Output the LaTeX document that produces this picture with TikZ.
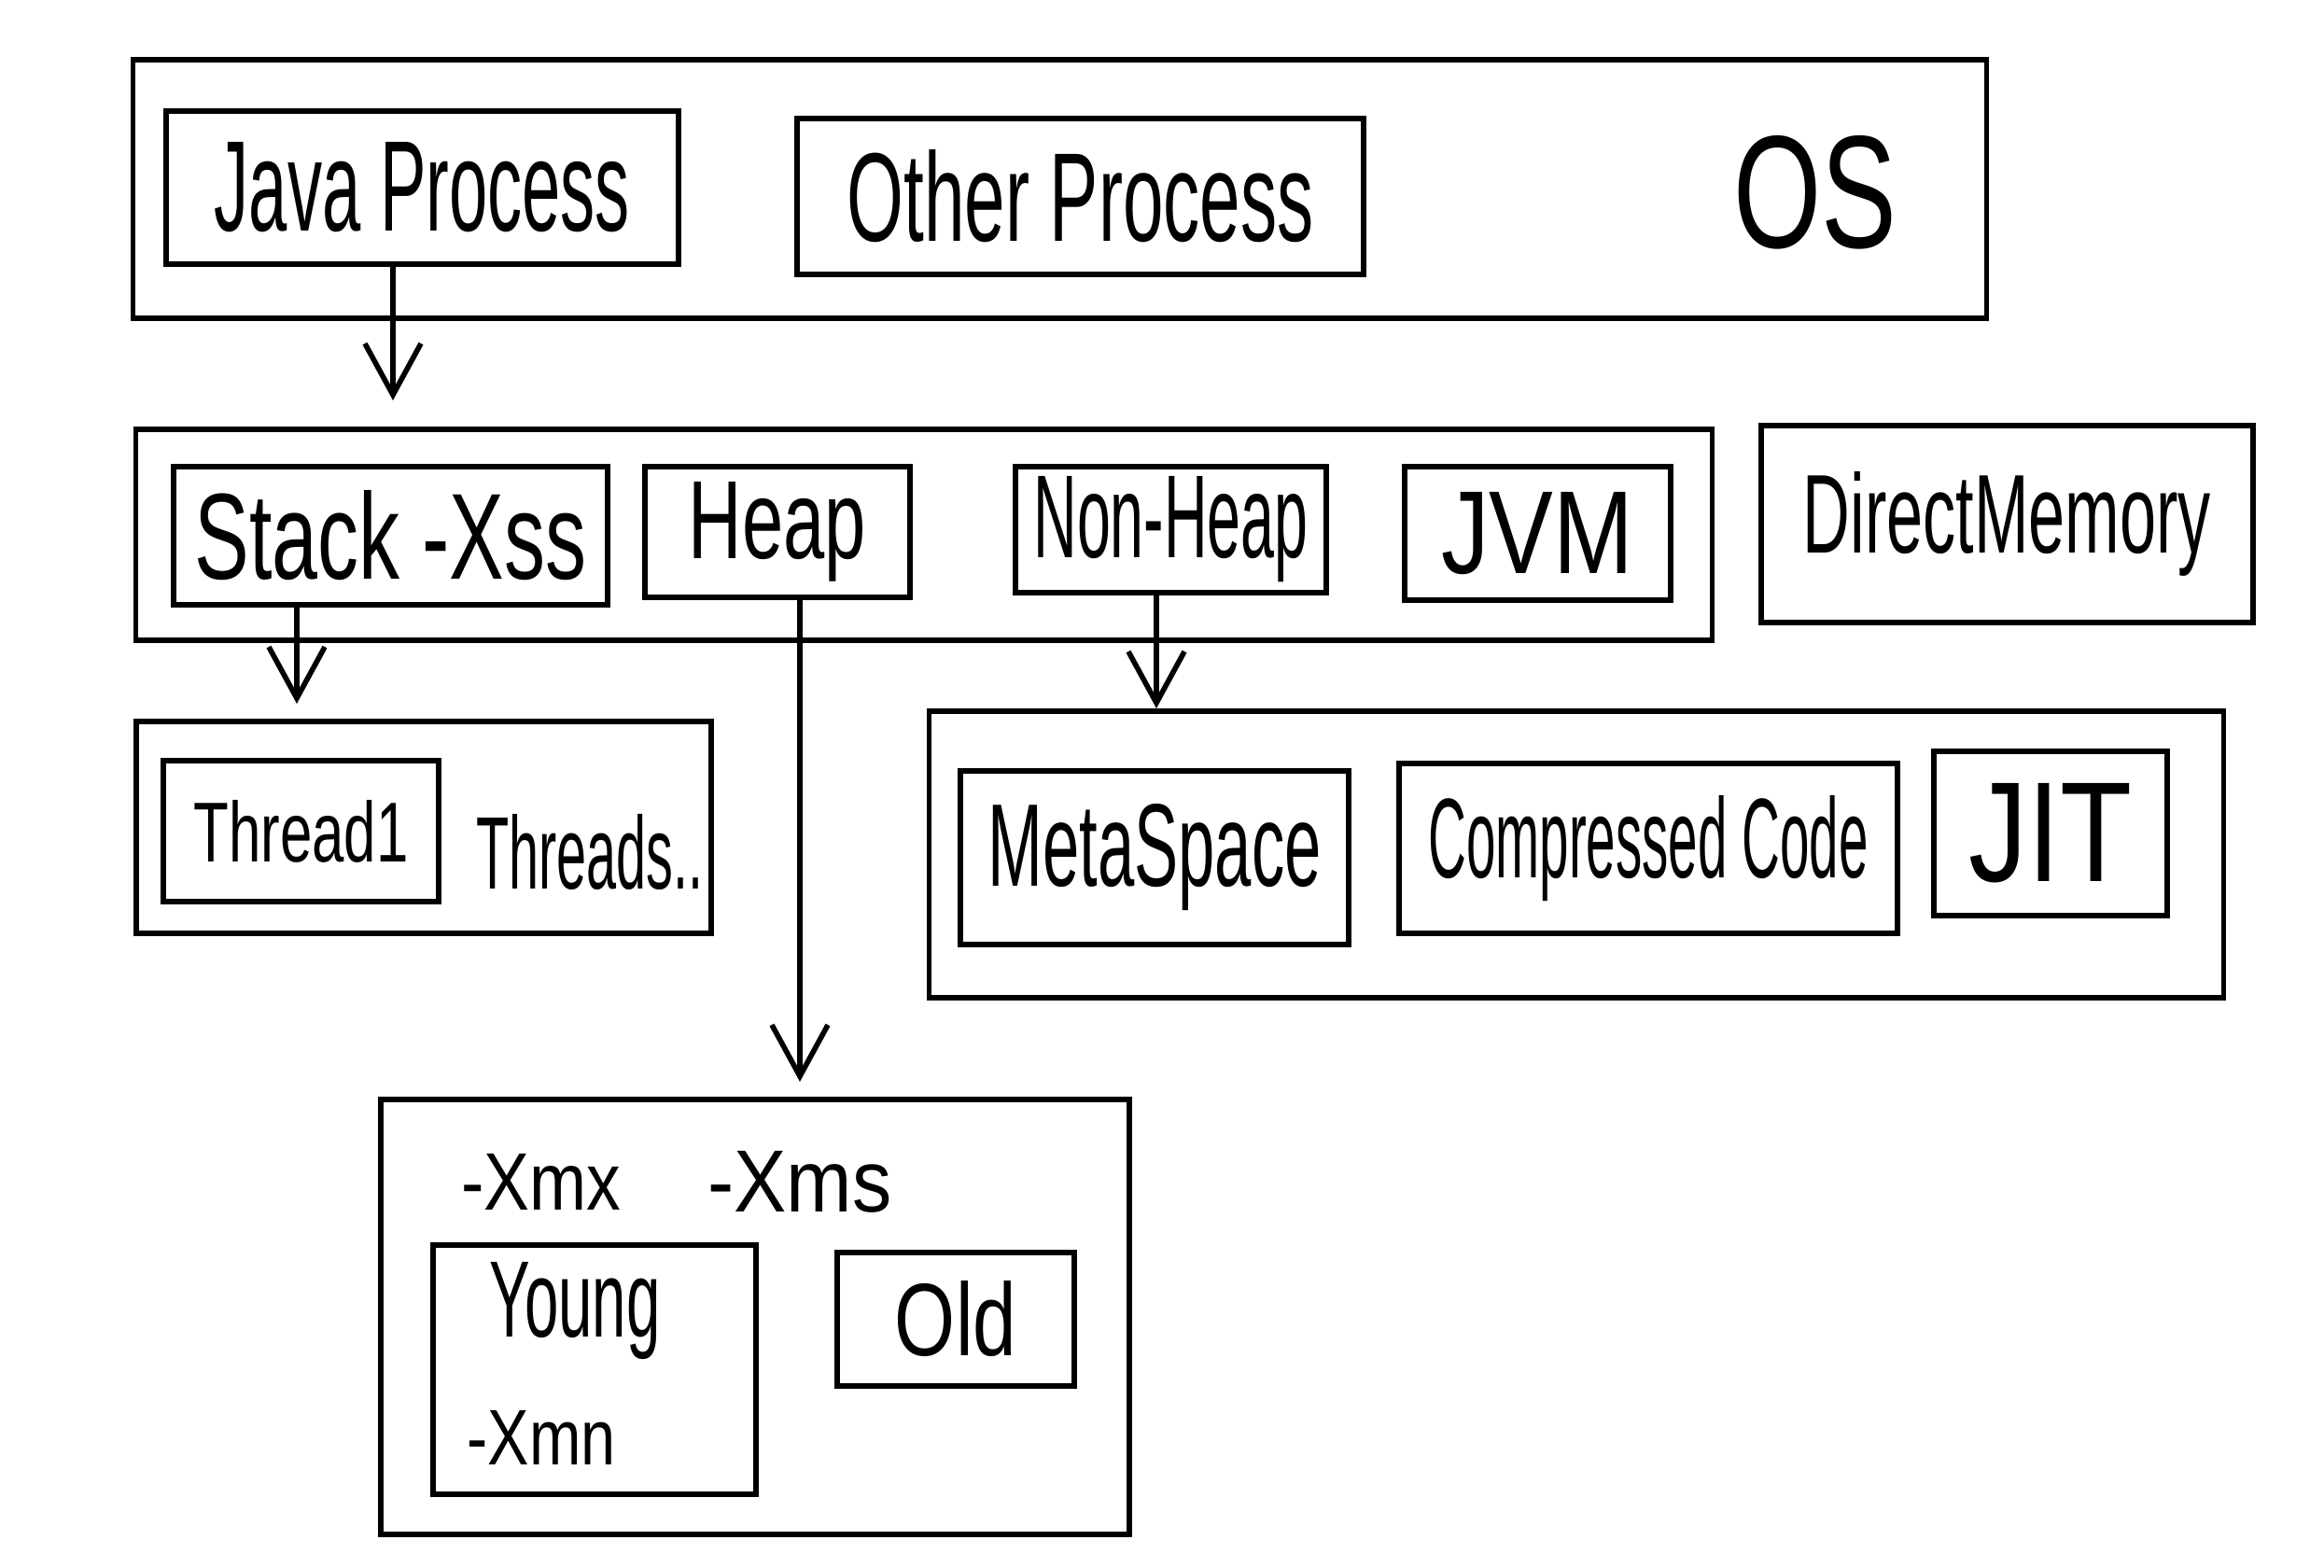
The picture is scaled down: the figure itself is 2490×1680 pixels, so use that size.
\documentclass[tikz,border=0pt]{standalone}
\usepackage{graphicx}
\usepackage{fontspec}
\setmainfont{Liberation Sans}
\usetikzlibrary{arrows.meta}
\newcommand{\hw}[3]{\resizebox{#1cm}{#2cm}{#3}}
\tikzset{
  hbox/.style={draw, line width=1.6pt, inner sep=0pt},
  lbl/.style={inner sep=0pt},
  arr/.style={line width=1.6pt, -{Straight Barb[length=0.55cm,width=0.6cm,line width=1.6pt]}}
}
\begin{document}
\begin{tikzpicture}[x=0.01cm,y=-0.01cm]
\useasboundingbox[fill=white] (0,0) rectangle (2490,1680);
% OS level
\node[hbox, minimum width=19.85cm, minimum height=2.77cm] (os) at (1135.5,202.5) {};
\node[hbox, minimum width=5.49cm, minimum height=1.64cm] (java) at (452.5,201) {\hw{4.45}{0.95}{Java Process}};
\node[hbox, minimum width=6.07cm, minimum height=1.67cm] (other) at (1157.5,210.5) {\hw{5.0}{0.98}{Other Process}};
\node[lbl] (ostxt) at (1945,206) {\hw{1.75}{1.2}{OS}};
% JVM level
\node[hbox, minimum width=16.88cm, minimum height=2.26cm] (jvm) at (990,573) {};
\node[hbox, minimum width=4.65cm, minimum height=1.48cm] (stack) at (418.5,574) {\hw{4.2}{0.95}{Stack -Xss}};
\node[hbox, minimum width=2.84cm, minimum height=1.40cm] (heap) at (833,570) {\hw{1.9}{0.82}{Heap}};
\node[hbox, minimum width=3.33cm, minimum height=1.35cm] (nonheap) at (1254.5,567.5) {\hw{2.94}{0.87}{Non-Heap}};
\node[hbox, minimum width=2.85cm, minimum height=1.43cm] (jvmin) at (1647.5,571.5) {\hw{2.06}{0.87}{JVM}};
\node[hbox, minimum width=5.27cm, minimum height=2.11cm] (direct) at (2150.5,561.5) {\hw{4.37}{0.87}{DirectMemory}};
% Threads
\node[hbox, minimum width=6.16cm, minimum height=2.27cm] (threads) at (454,886.5) {};
\node[hbox, minimum width=2.95cm, minimum height=1.51cm] (thread1) at (322.5,890.5) {\hw{2.3}{0.66}{Thread1}};
\node[lbl] (threadsmore) at (632,913) {\hw{2.43}{0.8}{Threads..}};
% Non-heap detail
\node[hbox, minimum width=13.86cm, minimum height=3.07cm] (nhbox) at (1689,915.5) {};
\node[hbox, minimum width=4.16cm, minimum height=1.86cm] (meta) at (1237,919) {\hw{3.57}{0.88}{MetaSpace}};
\node[hbox, minimum width=5.34cm, minimum height=1.82cm] (comp) at (1766,909) {\hw{4.71}{0.88}{Compressed Code}};
\node[hbox, minimum width=2.50cm, minimum height=1.76cm] (jit) at (2197,893) {\hw{1.75}{1.05}{JIT}};
% Heap detail
\node[hbox, minimum width=8.02cm, minimum height=4.66cm] (heapbox) at (809,1411) {};
\node[lbl] (xmx) at (580,1266) {\hw{1.71}{0.6}{-Xmx}};
\node[lbl] (xms) at (857,1266) {\hw{1.97}{0.65}{-Xms}};
\node[hbox, minimum width=3.46cm, minimum height=2.67cm] (young) at (637,1467.5) {};
\node[lbl] (youngtxt) at (616,1405) {\hw{1.83}{0.8}{Young}};
\node[lbl] (xmn) at (580,1540) {\hw{1.59}{0.58}{-Xmn}};
\node[hbox, minimum width=2.54cm, minimum height=1.43cm] (old) at (1024,1413.5) {\hw{1.3}{0.8}{Old}};
% arrows
\coordinate (a1) at (421,429);
\coordinate (a2) at (318,754);
\coordinate (a3) at (1239,759);
\coordinate (a4) at (857,1159);
\draw[arr] (java.south -| a1) -- (a1);
\draw[arr] (stack.south -| a2) -- (a2);
\draw[arr] (nonheap.south -| a3) -- (a3);
\draw[arr] (heap.south -| a4) -- (a4);
\end{tikzpicture}
\end{document}
